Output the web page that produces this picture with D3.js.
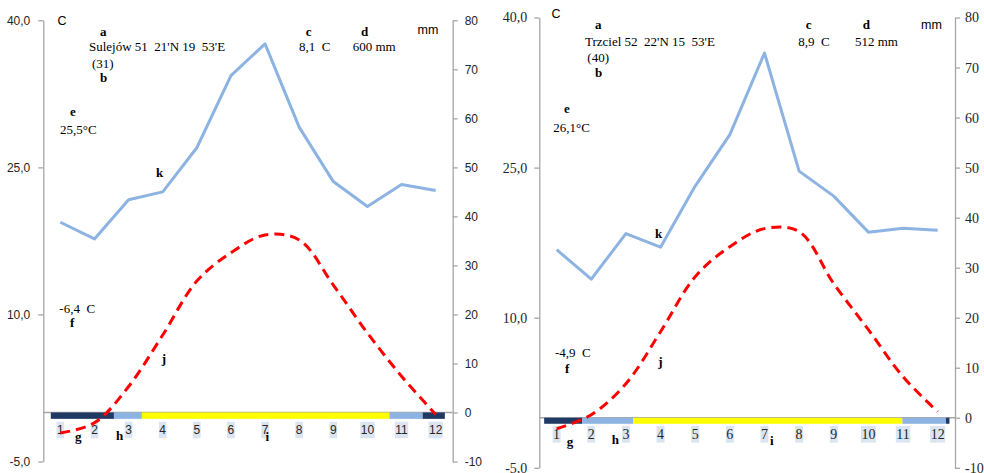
<!DOCTYPE html>
<html><head><meta charset="utf-8">
<script src="https://cdn.jsdelivr.net/npm/d3@7/dist/d3.min.js"></script>
<style>body{margin:0;background:#fff} svg{display:block} text{white-space:pre}</style>
</head><body>
<svg id="chart" width="984" height="473"></svg>
<script>
// ---------- DATA ----------
const months = ["1","2","3","4","5","6","7","8","9","10","11","12"];
const tempTickValues = [-5, 10, 25, 40];
const tempTickLabels = ["-5,0", "10,0", "25,0", "40,0"];
const precipTickValues = [-10, 0, 10, 20, 30, 40, 50, 60, 70, 80];
const precipTickLabels = ["-10", "0", "10", "20", "30", "40", "50", "60", "70", "80"];

const sulejowPrecip = [38.8, 35.4, 43.4, 45.0, 54.0, 68.7, 75.2, 58.2, 47.1, 42.0, 46.5, 45.3];
const sulejowTemp   = [-2.1, -1.05, 2.65, 7.9, 13.4, 16.3, 18.1, 17.6, 13.0, 8.1, 3.7, -0.2];
const sulejowSeasonBounds = [0.22, 2.07, 2.89, 10.15, 11.12, 11.77];

const trzcielPrecip = [33.6, 27.7, 36.8, 34.1, 46.3, 56.6, 72.9, 49.3, 44.3, 37.1, 37.9, 37.5];
const trzcielTemp   = [-1.1, 0.3, 3.4, 8.6, 14.1, 17.1, 18.9, 18.6, 13.4, 8.8, 4.1, 0.6];
const trzcielSeasonBounds = [0.14, 1.24, 2.71, 10.48, 11.74, 11.84];

const seasonTypes = ["cold", "transition", "warm", "transition", "cold"];

const sulejowTexts = ["Sulejów 51  21'N 19  53'E", "(31)", "8,1  C", "600 mm", "25,5°C", "-6,4  C"];
const trzcielTexts = ["Trzciel 52  22'N 15  53'E", "(40)", "8,9  C", "512 mm", "26,1°C", "-4,9  C"];
const letterKeys = ["a","b","c","d","e","f","g","h","i","j","k"];

// ---------- STYLE ----------
const seasonColor = {cold: "#1f3864", transition: "#8db3e2", warm: "#ffff00"};
const precipColor = "#8db3e2";
const tempColor = "#ff0000";
const axisColor = "#a6a6a6";
const sans = "'Liberation Sans', Arial, sans-serif";
const serif = "'Liberation Serif', 'Times New Roman', serif";

const svg = d3.select("#chart");

function drawPanel(cfg) {
  const g = svg.append("g");
  const x = d3.scaleBand().domain(months).range([cfg.x0, cfg.x1]).padding(0);
  const xm = d3.scaleLinear().domain([0, 12]).range([cfg.x0, cfg.x1]);
  const yT = d3.scaleLinear().domain([-5, 40]).range([cfg.yBot, cfg.yTop]);
  const yP = d3.scaleLinear().domain([-10, 80]).range([cfg.yBot, cfg.yTop]);
  const cx = m => x(m) + x.bandwidth() / 2;

  // left axis
  const la = g.append("g").attr("transform", `translate(${cfg.x0},0)`)
    .call(d3.axisLeft(yT).tickValues(tempTickValues).tickFormat((d, i) => tempTickLabels[i])
      .tickSizeInner(5).tickSizeOuter(0).tickPadding(cfg.lPad));
  const ra = g.append("g").attr("transform", `translate(${cfg.x1},0)`)
    .call(d3.axisRight(yP).tickValues(precipTickValues).tickFormat((d, i) => precipTickLabels[i])
      .tickSizeInner(5).tickSizeOuter(0).tickPadding(cfg.rPad));
  [la, ra].forEach(a => {
    a.select(".domain").attr("stroke", axisColor).attr("stroke-width", 1.3);
    a.selectAll(".tick line").attr("stroke", axisColor).attr("stroke-width", 1.3);
    a.selectAll(".tick text").attr("fill", "#262626").style("font-family", cfg.axisFont).style("font-size", cfg.axisSize + "px");
  });

  // zero line
  g.append("line").attr("x1", cfg.x0).attr("x2", cfg.x1).attr("y1", yT(0)).attr("y2", yT(0))
    .attr("stroke", axisColor).attr("stroke-width", 1.3);

  // season bar
  const segs = seasonTypes.map((t, i) => ({t, a: cfg.bounds[i], b: cfg.bounds[i + 1]}));
  g.selectAll("rect.season").data(segs).enter().append("rect").attr("class", "season")
    .attr("x", d => xm(d.a)).attr("width", d => xm(d.b) - xm(d.a))
    .attr("y", yT(0)).attr("height", yT(-cfg.barDepth) - yT(0))
    .attr("fill", d => seasonColor[d.t]);

  // month labels with boxes
  const ml = g.selectAll("g.ml").data(months).enter().append("g").attr("class", "ml");
  ml.each(function(m) {
    const sel = d3.select(this);
    const t = sel.append("text").attr("x", cx(m)).attr("y", cfg.monthY)
      .attr("text-anchor", "middle").attr("dominant-baseline", "central")
      .style("font-family", cfg.axisFont).style("font-size", cfg.axisSize + "px").attr("fill", "#262626").text(m);
    const w = t.node().getComputedTextLength() + 1;
    sel.insert("rect", "text").attr("x", cx(m) - w / 2).attr("width", w)
      .attr("y", cfg.monthY - cfg.boxH / 2).attr("height", cfg.boxH).attr("fill", "#dbe5f1");
  });

  // precipitation line
  g.append("path").datum(cfg.precip)
    .attr("d", d3.line().x((d, i) => cx(months[i])).y(d => yP(d)))
    .attr("fill", "none").attr("stroke", precipColor).attr("stroke-width", 3).attr("stroke-linejoin", "round");

  // temperature line
  g.append("path").datum(cfg.temp)
    .attr("d", d3.line().x((d, i) => cx(months[i])).y(d => yT(d)).curve(d3.curveCatmullRom.alpha(0.5)))
    .attr("fill", "none").attr("stroke", tempColor).attr("stroke-width", 3).attr("stroke-dasharray", "10,6");

  // annotation texts
  const T = cfg.texts;
  const items = [
    {s: "C", p: cfg.pos.C, f: sans, size: 12.5},
    {s: "mm", p: cfg.pos.mm, f: sans, size: 12.5},
    {s: T[0], p: cfg.pos.name}, {s: T[1], p: cfg.pos.years}, {s: T[2], p: cfg.pos.meanT},
    {s: T[3], p: cfg.pos.sumP}, {s: T[4], p: cfg.pos.maxT}, {s: T[5], p: cfg.pos.minT}
  ];
  letterKeys.forEach(k => items.push({s: k, p: cfg.pos[k], bold: true}));
  g.selectAll("text.ann").data(items).enter().append("text").attr("class", "ann")
    .attr("x", d => d.p[0]).attr("y", d => d.p[1])
    .style("font-family", d => d.f || serif).style("font-size", d => (d.size || 13) + "px")
    .style("font-weight", d => d.bold ? "bold" : "normal").attr("fill", "#000").text(d => d.s);
}

drawPanel({
  x0: 43.3, x1: 452.7, yTop: 20.3, yBot: 461.5, lPad: 8, rPad: 7,
  axisFont: sans, axisSize: 12, monthY: 430, boxH: 16.5, barDepth: 0.65,
  precip: sulejowPrecip, temp: sulejowTemp, bounds: sulejowSeasonBounds, texts: sulejowTexts,
  pos: {C: [57.5, 25], mm: [417.5, 34.3], name: [89, 50.7], years: [92, 67.7], meanT: [299, 50.7],
        sumP: [352.7, 50.7], maxT: [60, 134.3], minT: [59.3, 313.3],
        a: [100, 35.7], b: [100, 81.7], c: [305.7, 35.7], d: [361, 35.7], e: [70, 115.7],
        f: [70, 327.3], g: [75, 440.5], h: [116, 439.5], i: [265.5, 440.5], j: [161.7, 363.3], k: [156, 176.7]}
});

drawPanel({
  x0: 539.3, x1: 955, yTop: 17.5, yBot: 467.8, lPad: 7, rPad: 5,
  axisFont: serif, axisSize: 14, monthY: 434.3, boxH: 16.7, barDepth: 0.6,
  precip: trzcielPrecip, temp: trzcielTemp, bounds: trzcielSeasonBounds, texts: trzcielTexts,
  pos: {C: [551.5, 18.3], mm: [921, 29.3], name: [585, 46], years: [587.3, 61.7], meanT: [798.3, 45.7],
        sumP: [855, 45.7], maxT: [553.3, 131.7], minT: [555, 356.7],
        a: [595, 29.3], b: [595, 76.7], c: [805.7, 29.3], d: [862.7, 29.3], e: [564, 113.3],
        f: [565, 372.7], g: [566.7, 445.7], h: [611.7, 444], i: [770, 445], j: [658.3, 365.7], k: [655, 238.3]}
});
</script>
</body></html>
